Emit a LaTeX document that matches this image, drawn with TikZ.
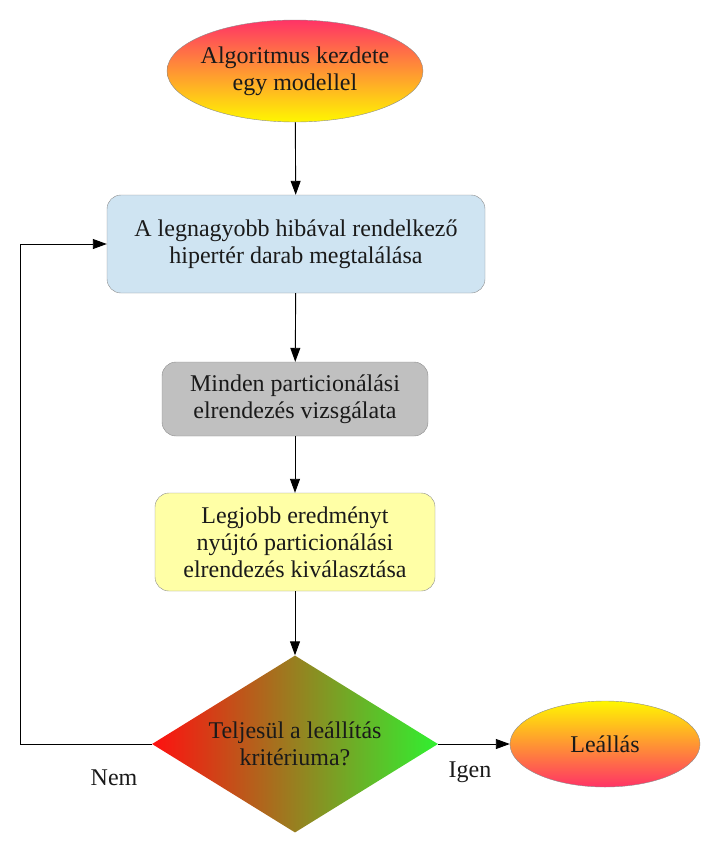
\documentclass[tikz,border=0pt]{standalone}
\usepackage{fontspec}
\setmainfont{Liberation Serif}
\usetikzlibrary{shapes.geometric, arrows.meta}
\definecolor{termred}{HTML}{FF3366}
\definecolor{termyellow}{HTML}{FFF700}
\definecolor{boxblue}{HTML}{CFE4F2}
\definecolor{boxgray}{HTML}{C0C0C0}
\definecolor{boxyellow}{HTML}{FFFFA6}
\definecolor{decred}{HTML}{FF1010}
\definecolor{decgreen}{HTML}{30F030}
\definecolor{edgegray}{HTML}{8C8C8C}
\definecolor{textdark}{HTML}{1A1A1A}

\begin{document}
\begin{tikzpicture}[x = 1pt, y = -1pt, font = \fontsize{24}{27}\selectfont, text = textdark,
    terminal/.style = {ellipse, draw = edgegray, inner sep = 0pt, align = center},
    process/.style  = {rectangle, rounded corners = 14pt, draw = edgegray, inner sep = 0pt, align = center},
    decision/.style = {diamond, inner sep = 0pt, minimum width = 286pt, minimum height = 177pt},
    flow/.style     = {-{Triangle[length = 14pt, width = 10pt]}, line width = 0.9pt}]
  \useasboundingbox (0,0) rectangle (723,849);
  \node[terminal, inner sep = -5pt, top color = termred, bottom color = termyellow, minimum width = 256pt, minimum height = 102pt] (start) at (295,71) {Algoritmus kezdete\\ egy modellel};
  \node[process, fill = boxblue, minimum width = 378pt, minimum height = 98pt] (search) at (296,244) {A legnagyobb hibával rendelkező\\ hipertér darab megtalálása};
  \node[process, fill = boxgray, minimum width = 266pt, minimum height = 74pt] (test) at (295,399) {Minden particionálási\\ elrendezés vizsgálata};
  \node[process, fill = boxyellow, minimum width = 280pt, minimum height = 98pt] (select) at (295,542) {Legjobb eredményt\\ nyújtó particionálási\\ elrendezés kiválasztása};
  \node[decision, left color = decred, right color = decgreen] (check) at (295,744) {};
  \node[align = center] (checktext) at (check.center) {Teljesül a leállítás\\ kritériuma?};
  \node[terminal, top color = termyellow, bottom color = termred, minimum width = 190pt, minimum height = 86pt] (stop) at (605,744) {Leállás};
  \coordinate (back) at (20,744);
  \node (no)  at (114,778) {Nem};
  \node (yes) at (470,772) {Igen};
  \path[flow] (start)  edge (search)
              (search) edge (test)
              (test)   edge (select)
              (select) edge (check)
              (check)  edge (stop);
  \draw[flow] (check.west) -- (back) |- (search.west);
\end{tikzpicture}
\end{document}
